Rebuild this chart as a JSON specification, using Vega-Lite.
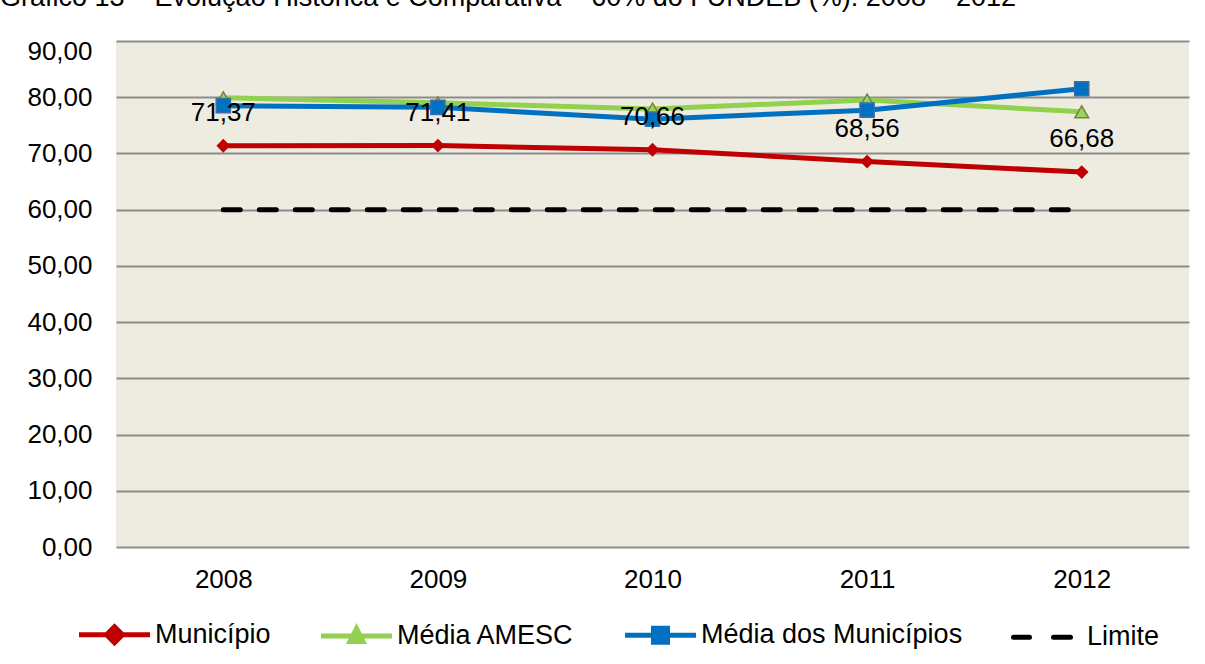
{
  "$schema": "https://vega.github.io/schema/vega-lite/v6.json",
  "width": 1073,
  "height": 506,
  "autosize": {"type": "none"},
  "padding": {"left": 116, "top": 41, "right": 16, "bottom": 117},
  "background": "white",
  "config": {
    "locale": {"number": {"decimal": ",", "thousands": ".", "grouping": [3], "currency": ["R$", ""]}},
    "font": "Liberation Sans",
    "view": {"fill": "#EEECE1", "stroke": null},
    "axis": {"labelFont": "Liberation Sans", "labelFontSize": 26, "labelColor": "black", "title": null}
  },
  "title": {
    "text": "Gráfico 13 – Evolução Histórica e Comparativa – 60% do FUNDEB (%): 2008 – 2012",
    "anchor": "start",
    "frame": "group",
    "dx": -116,
    "offset": 5,
    "baseline": "alphabetic",
    "fontSize": 27,
    "fontWeight": "normal",
    "font": "Liberation Sans",
    "color": "black"
  },
  "data": {
    "values": [
      {"ano": "2008", "serie": "Município", "valor": 71.37},
      {"ano": "2009", "serie": "Município", "valor": 71.41},
      {"ano": "2010", "serie": "Município", "valor": 70.66},
      {"ano": "2011", "serie": "Município", "valor": 68.56},
      {"ano": "2012", "serie": "Município", "valor": 66.68},
      {"ano": "2008", "serie": "Média AMESC", "valor": 79.9},
      {"ano": "2009", "serie": "Média AMESC", "valor": 79.0},
      {"ano": "2010", "serie": "Média AMESC", "valor": 77.9},
      {"ano": "2011", "serie": "Média AMESC", "valor": 79.5},
      {"ano": "2012", "serie": "Média AMESC", "valor": 77.4},
      {"ano": "2008", "serie": "Média dos Municípios", "valor": 78.5},
      {"ano": "2009", "serie": "Média dos Municípios", "valor": 78.2},
      {"ano": "2010", "serie": "Média dos Municípios", "valor": 76.1},
      {"ano": "2011", "serie": "Média dos Municípios", "valor": 77.7},
      {"ano": "2012", "serie": "Média dos Municípios", "valor": 81.5},
      {"ano": "2008", "serie": "Limite", "valor": 60},
      {"ano": "2009", "serie": "Limite", "valor": 60},
      {"ano": "2010", "serie": "Limite", "valor": 60},
      {"ano": "2011", "serie": "Limite", "valor": 60},
      {"ano": "2012", "serie": "Limite", "valor": 60}
    ]
  },
  "encoding": {
    "x": {
      "field": "ano",
      "type": "ordinal",
      "scale": {"type": "point", "padding": 0.5},
      "axis": {"labelAngle": 0, "domain": false, "ticks": false, "labelPadding": 19, "grid": false}
    },
    "y": {
      "field": "valor",
      "type": "quantitative",
      "scale": {"domain": [0, 90], "nice": false, "zero": true},
      "axis": {
        "values": [0, 10, 20, 30, 40, 50, 60, 70, 80, 90],
        "format": ".2f",
        "domain": false,
        "ticks": false,
        "labelPadding": 24,
        "grid": true,
        "gridColor": "#8C8C8C",
        "gridWidth": 2,
        "labelOffset": {"condition": {"test": "datum.value == 90", "value": 10}, "value": 0}
      }
    }
  },
  "layer": [
    {
      "transform": [{"filter": "datum.serie === 'Limite'"}],
      "mark": {"type": "line", "strokeWidth": 5, "strokeDash": [17, 19], "strokeCap": "round"},
      "encoding": {
        "color": {
          "field": "serie",
          "type": "nominal",
          "scale": {
            "domain": ["Município", "Média AMESC", "Média dos Municípios", "Limite"],
            "range": ["#C00000", "#92D050", "#0070C0", "#000000"]
          },
          "legend": {
            "orient": "none",
            "legendX": -15,
            "legendY": 580,
            "direction": "horizontal",
            "columns": 4,
            "title": null,
            "labelFontSize": 27,
            "labelFont": "Liberation Sans",
            "labelColor": "black",
            "labelLimit": 400,
            "symbolSize": 100,
            "symbolStrokeWidth": 5,
            "labelOffset": 27,
            "columnPadding": 40,
            "padding": 0,
            "encode": {
              "symbols": {
                "update": {
                  "shape": {"signal": "datum.value === 'Limite' ? 'M-6.6,0H-3.4M1.4,0H4.8' : datum.value === 'Município' ? 'M-7.1,0H7.1M-1.6,0L0,-1.6L1.6,0L0,1.6Z' : datum.value === 'Média AMESC' ? 'M-7.1,0H7.1M0,-1.5L1.3,1.1L-1.3,1.1Z' : 'M-7.1,0H7.1M-1.4,-1.4H1.4V1.4H-1.4Z'"},
                  "fill": {"signal": "datum.value === 'Limite' ? 'transparent' : datum.value === 'Município' ? '#C00000' : datum.value === 'Média AMESC' ? '#9BD35A' : '#0070C0'"},
                  "strokeCap": {"signal": "datum.value === 'Limite' ? 'round' : 'butt'"},
                  "strokeDash": {"value": []},
                  "opacity": {"value": 1}
                }
              }
            }
          }
        }
      }
    },
    {
      "transform": [{"filter": "datum.serie !== 'Limite'"}],
      "mark": {"type": "line", "strokeWidth": 5},
      "encoding": {
        "color": {"field": "serie", "type": "nominal"},
        "order": {"field": "ano"}
      }
    },
    {
      "transform": [{"filter": "datum.serie === 'Média AMESC'"}],
      "mark": {"type": "point", "shape": "triangle-up", "filled": true, "size": 190, "fill": "#9BD35A", "stroke": "#71893F", "strokeWidth": 1.5, "opacity": 1},
      "encoding": {}
    },
    {
      "transform": [{"filter": "datum.serie === 'Média dos Municípios'"}],
      "mark": {"type": "point", "shape": "square", "filled": true, "size": 200, "fill": "#0070C0", "stroke": "#3C6DAA", "strokeWidth": 1.5, "opacity": 1},
      "encoding": {}
    },
    {
      "transform": [{"filter": "datum.serie === 'Município'"}],
      "mark": {"type": "point", "shape": "diamond", "filled": true, "size": 190, "color": "#C00000", "opacity": 1},
      "encoding": {}
    },
    {
      "transform": [{"filter": "datum.serie === 'Município'"}],
      "mark": {"type": "text", "fontSize": 26, "font": "Liberation Sans", "dy": -33, "baseline": "middle", "color": "black"},
      "encoding": {
        "text": {"field": "valor", "type": "quantitative", "format": ".2f"}
      }
    }
  ]
}
